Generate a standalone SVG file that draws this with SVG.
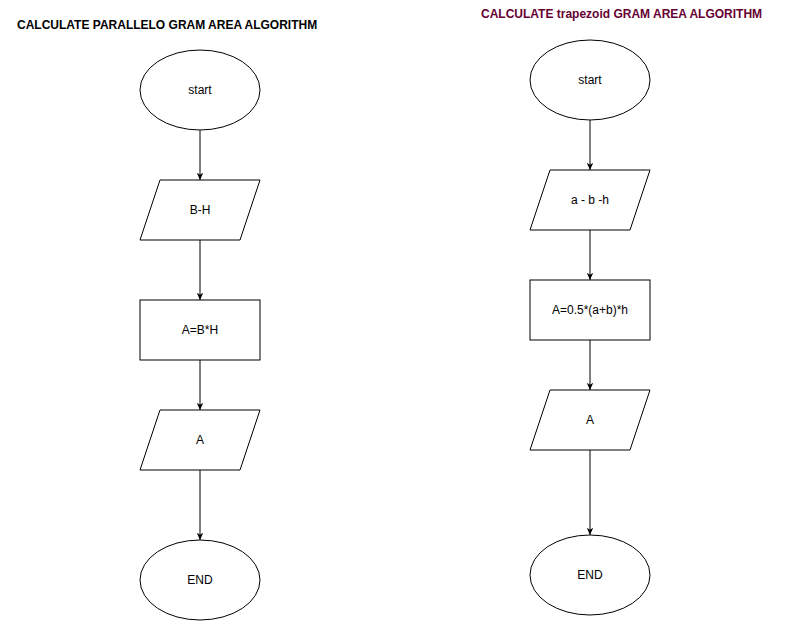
<svg xmlns="http://www.w3.org/2000/svg" width="790" height="621" viewBox="0 0 790 621">
<style>
.s{fill:#fff;stroke:#000;stroke-width:1}
.t{font-family:"Liberation Sans",Arial,sans-serif;font-size:12px;fill:#000;text-anchor:middle;dominant-baseline:central}
.h{font-family:"Liberation Sans",Arial,sans-serif;font-size:12px;font-weight:bold}
.c{stroke:#000;stroke-width:1;fill:none;marker-end:url(#a)}
</style>
<defs>
<marker id="a" viewBox="0 0 10 10" refX="9" refY="5" markerWidth="8" markerHeight="8" markerUnits="userSpaceOnUse" orient="auto">
<path d="M0,1 L9,5 L0,9 L2.5,5 Z" fill="#000"/>
</marker>
</defs>
<rect width="790" height="621" fill="#fff"/>
<text class="h" x="17" y="29" fill="#000">CALCULATE PARALLELO GRAM AREA ALGORITHM</text>
<text class="h" x="481" y="18" fill="#660033">CALCULATE trapezoid GRAM AREA ALGORITHM</text>
<g id="connectors">
<path class="c" d="M200,130 V180"/>
<path class="c" d="M200,240 V300"/>
<path class="c" d="M200,360 V410"/>
<path class="c" d="M200,470 V540"/>
<path class="c" d="M590,120 V170"/>
<path class="c" d="M590,230 V280"/>
<path class="c" d="M590,340 V390"/>
<path class="c" d="M590,450 V535"/>
</g>
<g id="l-start"><ellipse class="s" cx="200" cy="90" rx="60" ry="40"/><text class="t" x="200" y="90">start</text></g>
<g id="l-input"><path class="s" d="M160,180 H260 L240,240 H140 Z"/><text class="t" x="200" y="210">B-H</text></g>
<g id="l-calc"><rect class="s" x="140" y="300" width="120" height="60"/><text class="t" x="200" y="330">A=B*H</text></g>
<g id="l-output"><path class="s" d="M160,410 H260 L240,470 H140 Z"/><text class="t" x="200" y="440">A</text></g>
<g id="l-end"><ellipse class="s" cx="200" cy="580" rx="60" ry="40"/><text class="t" x="200" y="580">END</text></g>
<g id="r-start"><ellipse class="s" cx="590" cy="80" rx="60" ry="40"/><text class="t" x="590" y="80">start</text></g>
<g id="r-input"><path class="s" d="M550,170 H650 L630,230 H530 Z"/><text class="t" x="590" y="200">a - b -h</text></g>
<g id="r-calc"><rect class="s" x="530" y="280" width="120" height="60"/><text class="t" x="590" y="310">A=0.5*(a+b)*h</text></g>
<g id="r-output"><path class="s" d="M550,390 H650 L630,450 H530 Z"/><text class="t" x="590" y="420">A</text></g>
<g id="r-end"><ellipse class="s" cx="590" cy="575" rx="60" ry="40"/><text class="t" x="590" y="575">END</text></g>
</svg>
